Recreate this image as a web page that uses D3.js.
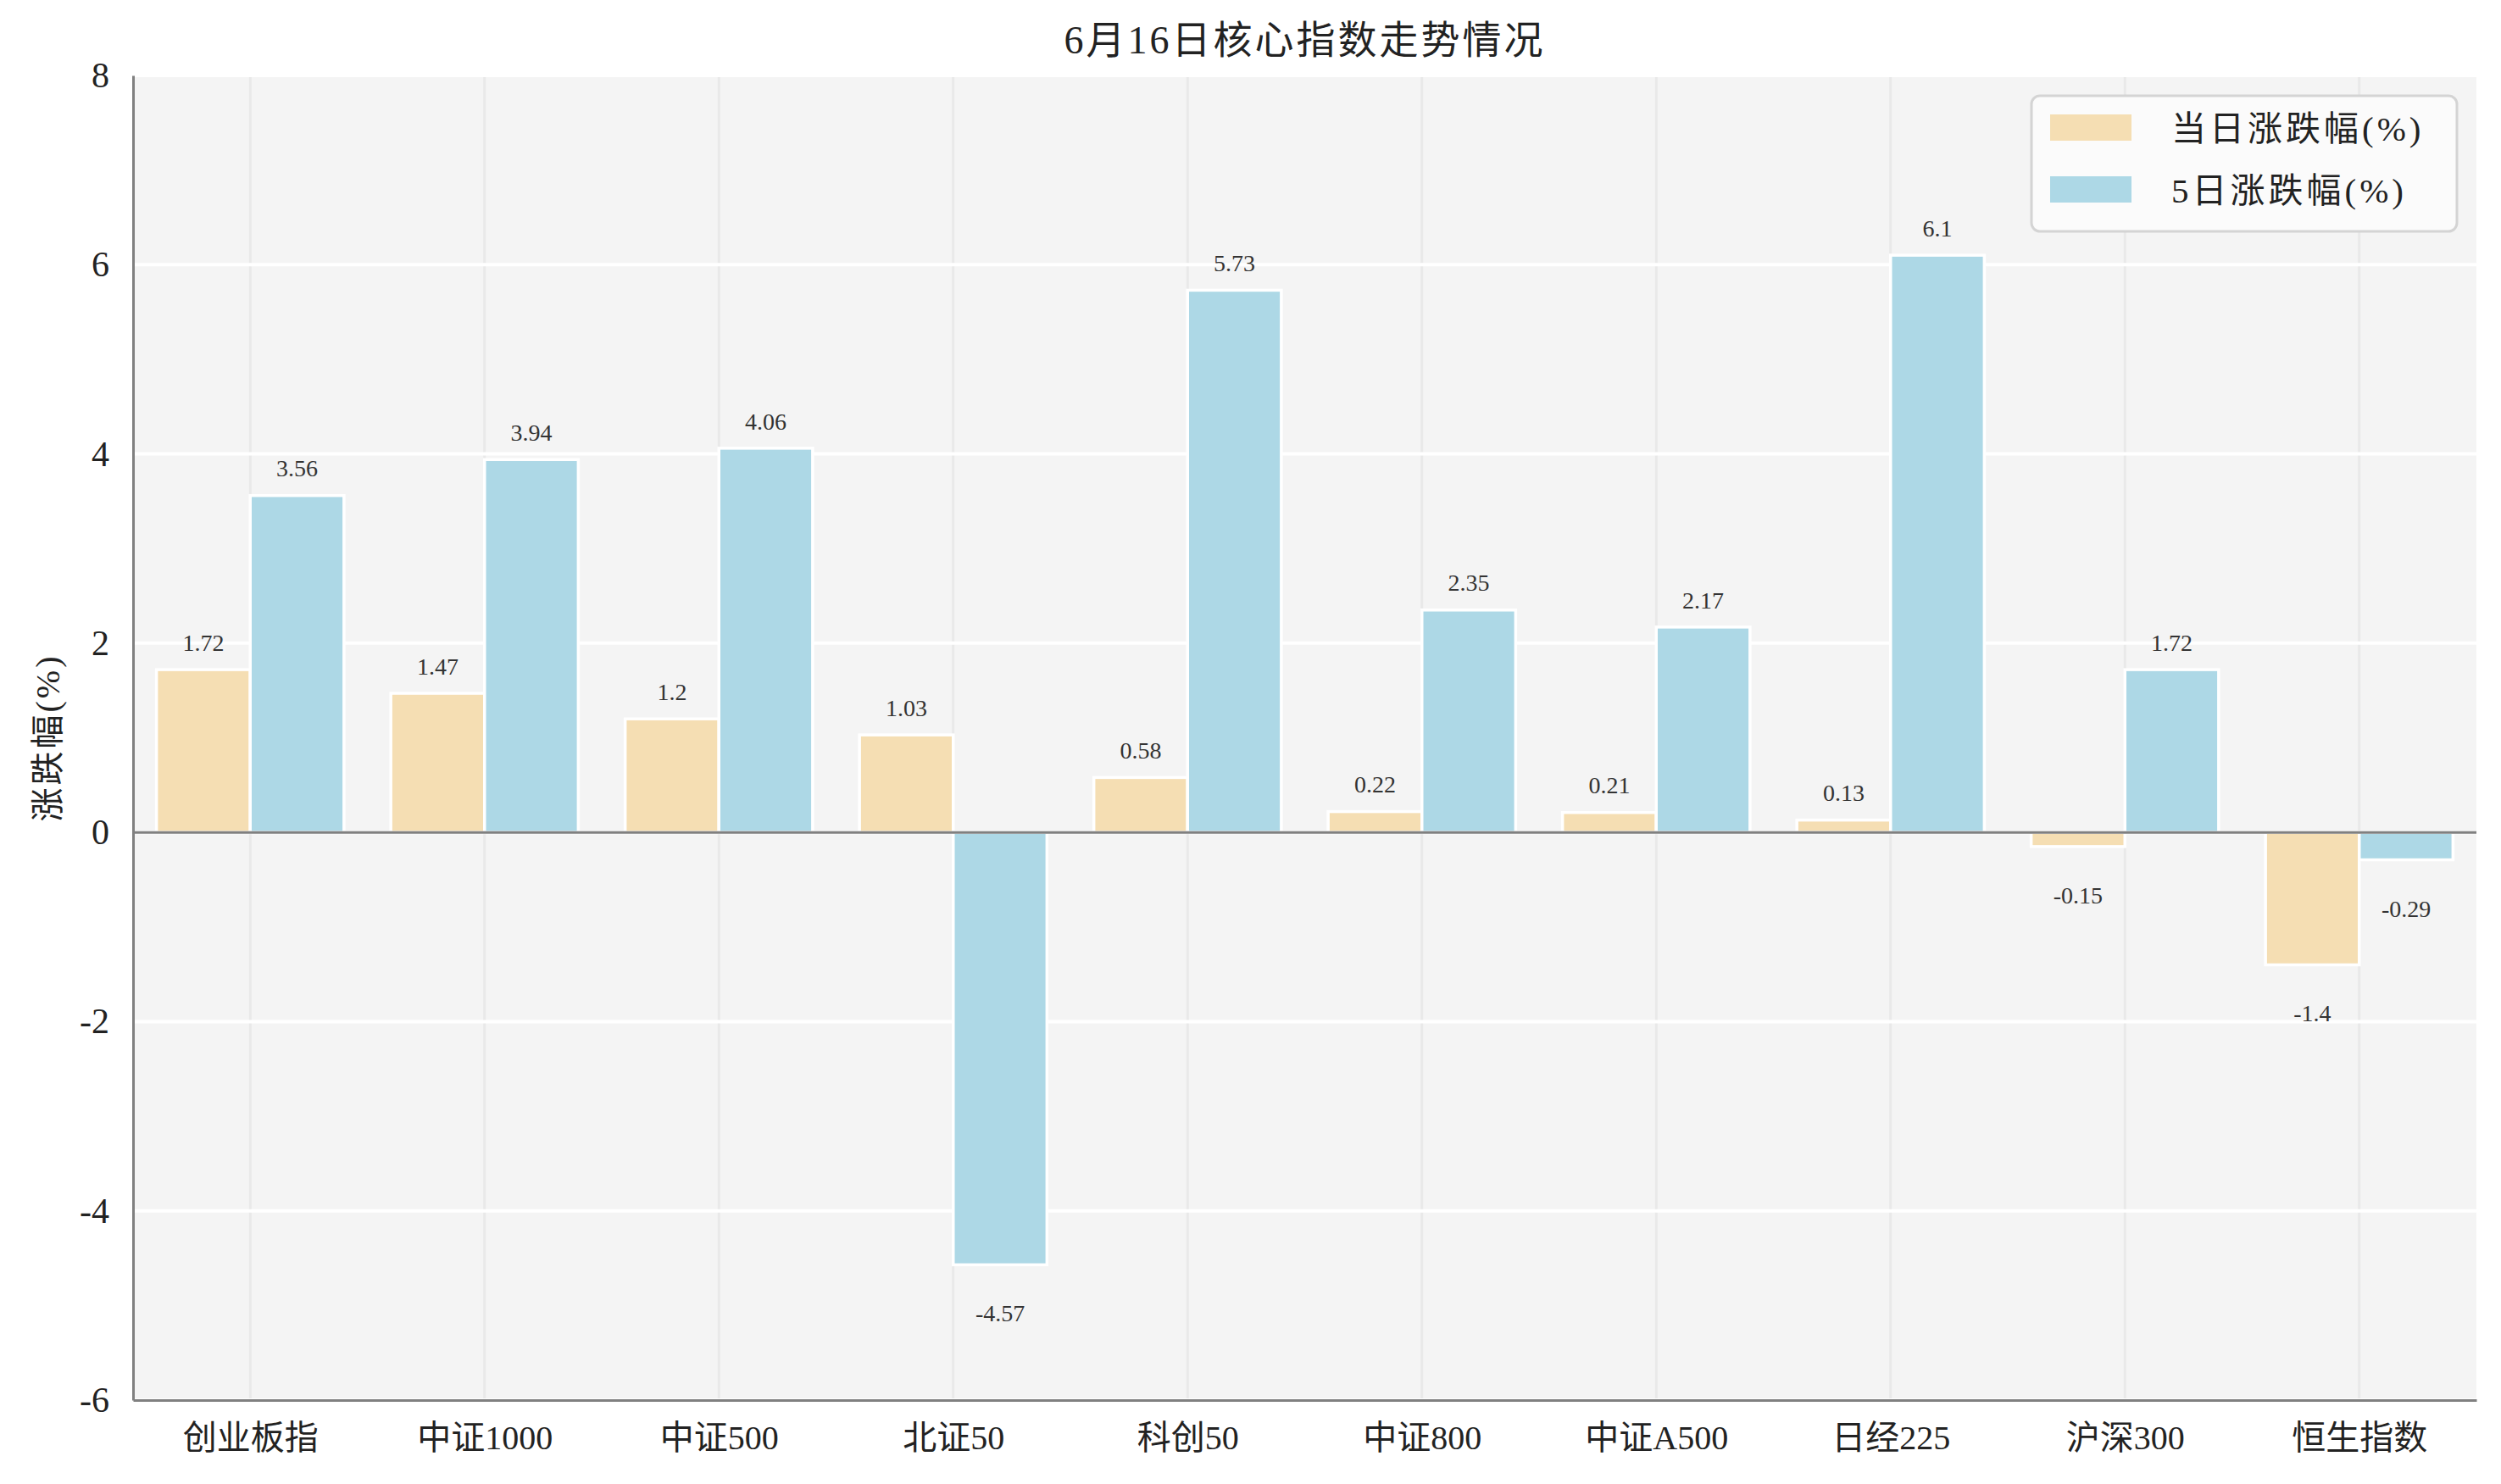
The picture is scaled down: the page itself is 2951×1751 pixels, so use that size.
<!DOCTYPE html>
<html>
<head>
<meta charset="utf-8">
<script src="https://cdn.jsdelivr.net/npm/d3@7"></script>
<style>
  body { margin: 0; background: #fff; }
  text { font-family: "Liberation Serif", "Noto Sans CJK SC", serif; fill: #222; }
</style>
</head>
<body>
<svg id="chart" width="2951" height="1751"></svg>
<script>
const categories = ["创业板指", "中证1000", "中证500", "北证50", "科创50", "中证800", "中证A500", "日经225", "沪深300", "恒生指数"];
const dayChange = [1.72, 1.47, 1.2, 1.03, 0.58, 0.22, 0.21, 0.13, -0.15, -1.4];
const fiveDayChange = [3.56, 3.94, 4.06, -4.57, 5.73, 2.35, 2.17, 6.1, 1.72, -0.29];
const yTicks = [-6, -4, -2, 0, 2, 4, 6, 8];
const seriesNames = ["当日涨跌幅(%)", "5日涨跌幅(%)"];
const colors = ["#f5deb3", "#add8e6"];

const svg = d3.select("#chart");
const margin = { top: 89, right: 29, bottom: 99, left: 157 };
const W = 2951, H = 1751;
const plotW = W - margin.left - margin.right;
const plotH = H - margin.top - margin.bottom;

// x in "category units", like matplotlib positions
const x = d3.scaleLinear().domain([-0.5, categories.length - 0.5]).range([0, plotW]);
const y = d3.scaleLinear().domain([-6, 8]).range([plotH, 0]);
const barW = 0.4;

const g = svg.append("g").attr("transform", `translate(${margin.left},${margin.top})`);

g.append("rect").attr("width", plotW).attr("height", plotH).attr("fill", "#f4f4f4");

// vertical grid at category centres
g.selectAll("line.vgrid").data(categories).enter().append("line")
  .attr("class", "vgrid")
  .attr("x1", (d, i) => x(i)).attr("x2", (d, i) => x(i))
  .attr("y1", 0).attr("y2", plotH)
  .attr("stroke", "#e9e9e9").attr("stroke-width", 3);

// horizontal grid
g.selectAll("line.hgrid").data(yTicks).enter().append("line")
  .attr("class", "hgrid")
  .attr("x1", 0).attr("x2", plotW)
  .attr("y1", d => y(d)).attr("y2", d => y(d))
  .attr("stroke", "#ffffff").attr("stroke-width", 4);

// bars
[dayChange, fiveDayChange].forEach((vals, s) => {
  g.selectAll("rect.bar" + s).data(vals).enter().append("rect")
    .attr("class", "bar" + s)
    .attr("x", (d, i) => x(i - barW + s * barW))
    .attr("width", x(barW) - x(0))
    .attr("y", d => y(Math.max(0, d)))
    .attr("height", d => Math.abs(y(d) - y(0)))
    .attr("fill", colors[s])
    .attr("stroke", "#fff").attr("stroke-width", 3.5);

  g.selectAll("text.lab" + s).data(vals).enter().append("text")
    .attr("class", "lab" + s)
    .attr("x", (d, i) => x(i - barW / 2 + s * barW))
    .attr("y", d => y(d >= 0 ? d + 0.2 : d - 0.6))
    .attr("text-anchor", "middle")
    .attr("font-size", 28)
    .style("fill", "#333")
    .text(d => d);
});

// zero line
g.append("line")
  .attr("x1", 0).attr("x2", plotW)
  .attr("y1", y(0)).attr("y2", y(0))
  .attr("stroke", "#808080").attr("stroke-width", 3);

// y axis
const yAxis = g.append("g").call(d3.axisLeft(y).tickValues(yTicks).tickFormat(d => String(d)).tickSize(0).tickPadding(28));
yAxis.select(".domain").attr("stroke", "#808080").attr("stroke-width", 3);
yAxis.selectAll("text").attr("font-size", 42).attr("fill", "#222")
  .style("font-family", "'Liberation Serif', serif");

// x axis
const xAxis = g.append("g").attr("transform", `translate(0,${plotH})`)
  .call(d3.axisBottom(x).tickValues(d3.range(categories.length)).tickFormat(i => categories[i]).tickSize(0).tickPadding(30));
xAxis.select(".domain").attr("stroke", "#808080").attr("stroke-width", 3);
xAxis.selectAll("text").attr("font-size", 40).attr("fill", "#222")
  .style("font-family", "'Liberation Serif', 'Noto Sans CJK SC', serif");

// y label
svg.append("text")
  .attr("transform", `translate(70,${margin.top + plotH / 2}) rotate(-90)`)
  .attr("text-anchor", "middle")
  .attr("font-size", 40)
  .attr("letter-spacing", 3)
  .text("涨跌幅(%)");

// title
svg.append("text")
  .attr("x", margin.left + plotW / 2).attr("y", 63)
  .attr("text-anchor", "middle")
  .attr("font-size", 46)
  .attr("letter-spacing", 3)
  .text("6月16日核心指数走势情况");

// legend
const leg = svg.append("g").attr("transform", "translate(2397,113)");
leg.append("rect").attr("width", 502).attr("height", 160).attr("rx", 10)
  .attr("fill", "#fbfbfb").attr("stroke", "#d4d4d4").attr("stroke-width", 3);
seriesNames.forEach((name, s) => {
  leg.append("rect").attr("x", 22).attr("y", 22 + s * 73).attr("width", 96).attr("height", 31)
    .attr("fill", colors[s]);
  leg.append("text").attr("x", 165).attr("y", 53 + s * 73)
    .attr("font-size", 41).attr("letter-spacing", 4)
    .text(name);
});
</script>
</body>
</html>
